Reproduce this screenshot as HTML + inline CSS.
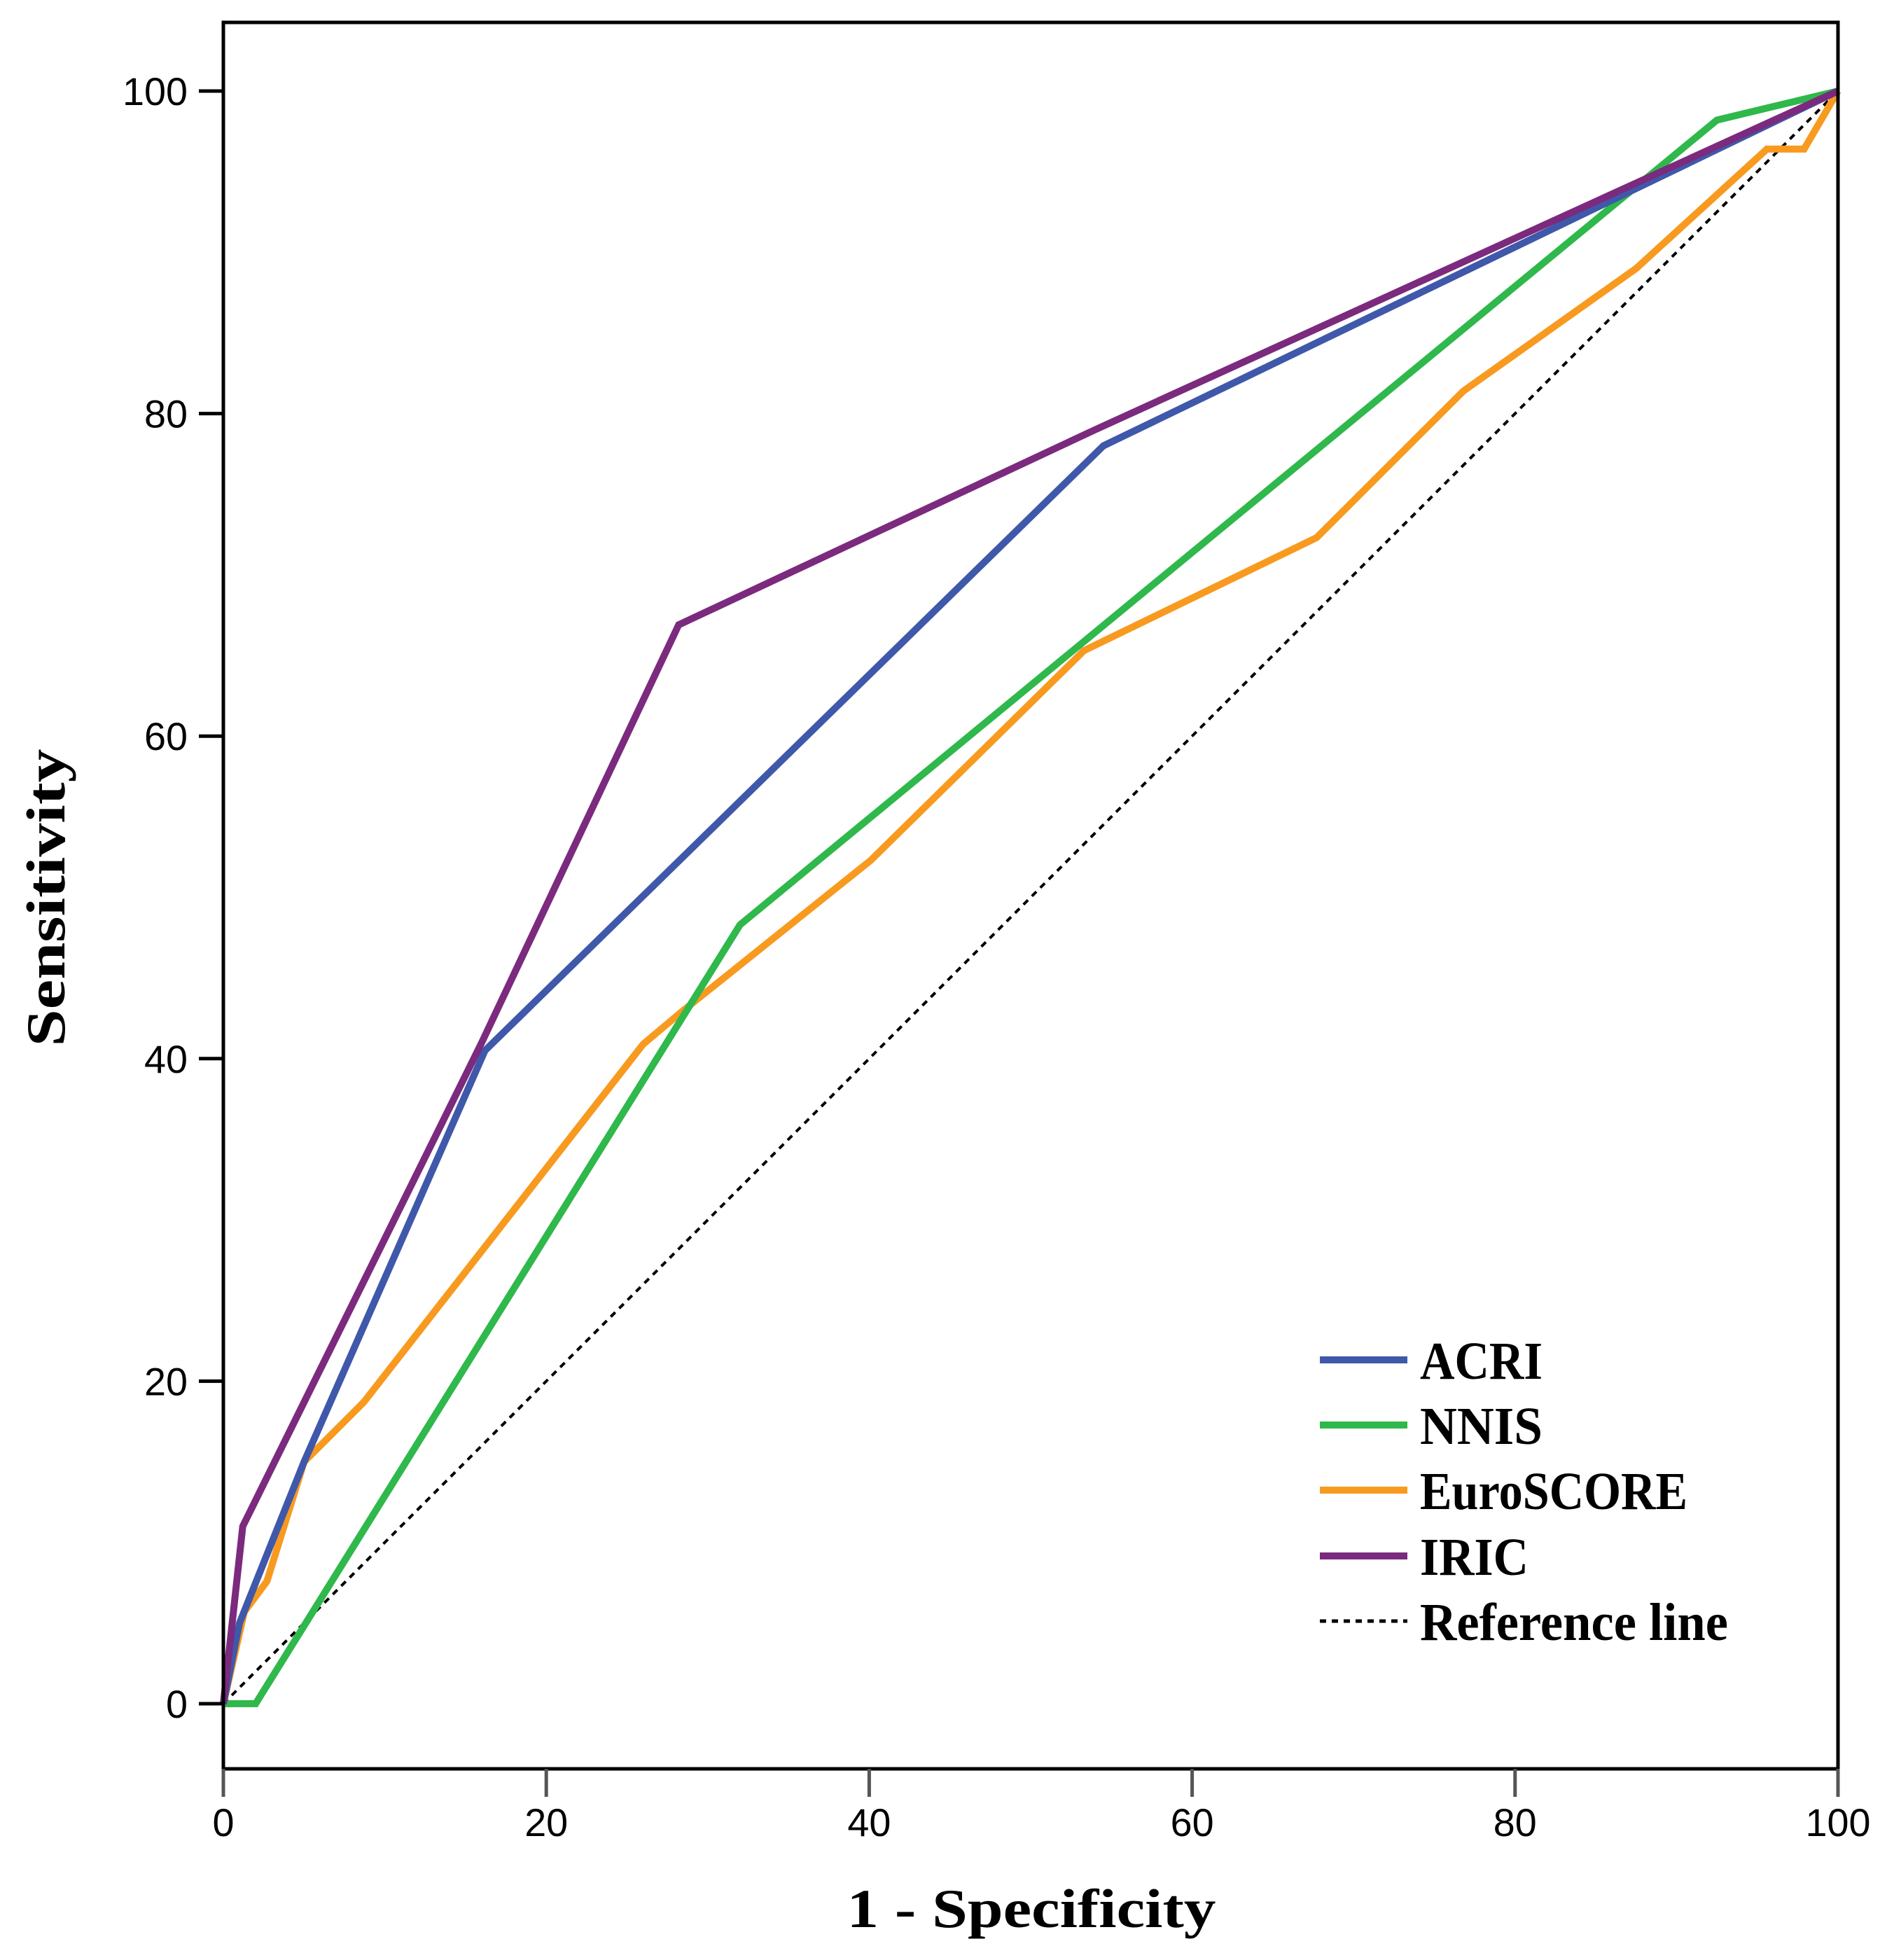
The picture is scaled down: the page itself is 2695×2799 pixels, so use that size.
<!DOCTYPE html>
<html><head><meta charset="utf-8"><style>html,body{margin:0;padding:0;background:#fff}svg{display:block}</style></head>
<body>
<svg id="chart" width="2695" height="2799" viewBox="0 0 2695 2799" xmlns="http://www.w3.org/2000/svg">
<rect x="0" y="0" width="2695" height="2799" fill="#fff"/>
<g id="plot"></g>
<g id="axes"></g>
<text x="0" y="0" transform="translate(92,1282) rotate(-90)" text-anchor="middle" font-family="Liberation Serif, serif" font-weight="bold" font-size="78" textLength="425" lengthAdjust="spacingAndGlyphs">Sensitivity</text>
<text x="1473" y="2752" text-anchor="middle" font-family="Liberation Serif, serif" font-weight="bold" font-size="78" textLength="527" lengthAdjust="spacingAndGlyphs">1 - Specificity</text>
<g id="legend"></g>
</svg>
<script>
const xTicks = [0,20,40,60,80,100];
const yTicks = [0,20,40,60,80,100];
const seriesNames = ["ACRI","NNIS","EuroSCORE","IRIC"];
const seriesColors = ["#3f58aa","#2fb84b","#f89a1f","#7b2a7e"];
const acriX = [0,1,5,16.2,54.5,100];
const acriY = [0,5,15,40.5,78,100];
const nnisX = [0,2,32,92.5,100];
const nnisY = [0,0,48.3,98.2,100];
const euroX = [0,1.3,2.7,5,8.7,26,28.5,40.1,53.3,67.7,76.8,87.5,95.6,97.9,100];
const euroY = [0,5.7,7.6,15,18.7,40.9,43,52.3,65.3,72.3,81.4,89,96.4,96.4,100];
const iricX = [0,1.2,16,28.2,54,100];
const iricY = [0,11,41,66.9,79,100];
const refX = [0,100];
const refY = [0,100];

const X0=319, X1=2625, Y0=2433, Y1=130;
const sx = v => X0 + (X1-X0)*v/100;
const sy = v => Y0 - (Y0-Y1)*v/100;
const NS="http://www.w3.org/2000/svg";
const plot=document.getElementById('plot');
const axes=document.getElementById('axes');
const legend=document.getElementById('legend');
function mk(tag, attrs, parent){const e=document.createElementNS(NS,tag);for(const k in attrs)e.setAttribute(k,attrs[k]);parent.appendChild(e);return e;}
function pts(xs,ys){return xs.map((x,i)=>sx(x).toFixed(1)+','+sy(ys[i]).toFixed(1)).join(' ');}

const ref=mk('polyline',{points:pts(refX,refY),fill:'none',stroke:'#000','stroke-width':4,'stroke-dasharray':'9,8'},plot);



const allX=[acriX,nnisX,euroX,iricX], allY=[acriY,nnisY,euroY,iricY];
const order=[2,1,0,3];
order.forEach(i=>{
  const p=mk('polyline',{points:pts(allX[i],allY[i]),fill:'none',stroke:seriesColors[i],'stroke-width':10,'stroke-linejoin':'miter','stroke-linecap':'butt'},plot);
  
  
});

const frame=mk('rect',{x:X0,y:32,width:X1-X0,height:2526-32,fill:'none',stroke:'#000','stroke-width':5},axes);



yTicks.forEach(v=>{
  const t=mk('line',{x1:284,x2:X0,y1:sy(v),y2:sy(v),stroke:'#000','stroke-width':5},axes);
  
  
  const l=mk('text',{x:268,y:sy(v)+20,'text-anchor':'end','font-family':'Liberation Sans, sans-serif','font-size':56},axes);
  l.textContent=v;
  l.setAttribute('textLength', String(v).length*31);
  l.setAttribute('lengthAdjust', 'spacingAndGlyphs');
  
  
});
xTicks.forEach(v=>{
  const t=mk('line',{x1:sx(v),x2:sx(v),y1:2526,y2:2566,stroke:'#555','stroke-width':5},axes);
  
  
  const l=mk('text',{x:sx(v),y:2622,'text-anchor':'middle','font-family':'Liberation Sans, sans-serif','font-size':56},axes);
  l.textContent=v;
  l.setAttribute('textLength', String(v).length*31);
  l.setAttribute('lengthAdjust', 'spacingAndGlyphs');
  
  
});

const legLabels=["ACRI","NNIS","EuroSCORE","IRIC","Reference line"];
const legWidths=[175,175,382,155,440];
const legY=[1942,2035,2128,2222,2315];
legLabels.forEach((name,i)=>{
  const isRef=i===4;
  const ln=mk('line',{x1:1885,x2:2010,y1:legY[i],y2:legY[i],stroke:isRef?'#000':seriesColors[i],'stroke-width':isRef?5:10,'stroke-dasharray':isRef?'9,8':'none'},legend);
  
  
  const tx=mk('text',{x:2028,y:legY[i]+27,'font-family':'Liberation Serif, serif','font-weight':'bold','font-size':76,textLength:legWidths[i],lengthAdjust:'spacingAndGlyphs'},legend);
  tx.textContent=name;
  
  
});
</script>
</body></html>
